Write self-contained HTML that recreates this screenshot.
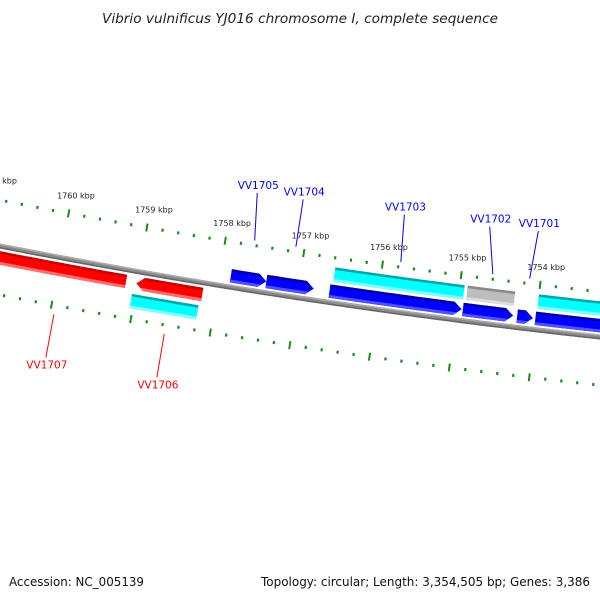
<!DOCTYPE html>
<html><head><meta charset="utf-8"><style>
html,body{margin:0;padding:0;background:#fff;}
svg{display:block;font-family:"DejaVu Sans","Liberation Sans",sans-serif;}
</style></head><body>
<svg id="map" width="600" height="600" viewBox="0 0 600 600" xmlns="http://www.w3.org/2000/svg">
<defs id="defs"></defs>
<text x="300" y="23" text-anchor="middle" font-size="13" font-style="italic" fill="#222" textLength="396" lengthAdjust="spacingAndGlyphs">Vibrio vulnificus YJ016 chromosome I, complete sequence</text>
<g id="ticks"></g>
<g id="backbone"></g>
<g id="features"></g>
<g id="labels"></g>
<text x="9" y="586" font-size="12" fill="#111" textLength="135" lengthAdjust="spacingAndGlyphs">Accession: NC_005139</text>
<text x="590" y="586" text-anchor="end" font-size="12" fill="#111" textLength="329" lengthAdjust="spacingAndGlyphs">Topology: circular; Length: 3,354,505 bp; Genes: 3,386</text>
</svg>
<script>
// ---- data ----
const geneNames = ["VV1707","VV1706","VV1705","VV1704","VV1703","VV1702","VV1701","VV1700"];
const geneStarts = [1759140,1758175,1757410,1756810,1754940,1754290,1754040,1752000];
const geneEnds   = [1762200,1759010,1757860,1757410,1756610,1754925,1754240,1754010];
const geneStrand = [-1,-1,1,1,1,1,1,1];
const geneLabeled = [true,true,true,true,true,true,true,false];
const geneLabelBp = [1759950,1758560,1757635,1757110,1755775,1754607,1754140,0];
const geneLabelDx = [0,0,-5,0,-3,-9,3,0];
const cogStarts = [1758200,1754940,1754300,1752000];
const cogEnds   = [1759040,1756580,1754900,1754000];
const cogStrand = [-1,1,1,1];
const cogKind   = ["cyan","cyan","gray","cyan"];
const tickMajorKbp = [1753,1754,1755,1756,1757,1758,1759,1760,1761,1762];
const tickLabels = ["1753 kbp","1754 kbp","1755 kbp","1756 kbp","1757 kbp","1758 kbp","1759 kbp","1760 kbp","1761 kbp","1762 kbp"];

// ---- geometry (circle centre above the backbone) ----
const R = 7100, REF = 1756975, PXPERBP = 0.08;
const ang0 = 8.62*Math.PI/180;
const nx = Math.sin(ang0), ny = -Math.cos(ang0); // upward normal
const P0 = [299, 297.9];
const C = [P0[0]+R*nx, P0[1]+R*ny];
const phi0 = Math.atan2(-ny, -nx);
function pt(bp, off){
  const phi = phi0 - (REF-bp)*PXPERBP/R;
  const r = R-off;
  return [C[0]+r*Math.cos(phi), C[1]+r*Math.sin(phi)];
}
const NS="http://www.w3.org/2000/svg";
function mk(tag, attrs, parent){
  const e=document.createElementNS(NS,tag);
  for(const k in attrs) e.setAttribute(k,attrs[k]);
  parent.appendChild(e); return e;
}
function bandPts(b0,b1,o0,o1){
  const a=[],n=Math.max(2,Math.ceil(Math.abs(b1-b0)/50));
  for(let i=0;i<=n;i++) a.push(pt(b0+(b1-b0)*i/n,o1));
  for(let i=n;i>=0;i--) a.push(pt(b0+(b1-b0)*i/n,o0));
  return a.map(p=>p[0].toFixed(2)+","+p[1].toFixed(2)).join(" ");
}
function arrowPts(s,e,o0,o1,dir){
  const head=100, mid=(o0+o1)/2, a=[];
  if(dir===1){
    const hb=Math.min(e, s+head);
    const n=Math.max(2,Math.ceil((e-hb)/50));
    for(let i=0;i<=n;i++) a.push(pt(hb+(e-hb)*i/n,o1));
    for(let i=n;i>=0;i--) a.push(pt(hb+(e-hb)*i/n,o0));
    a.push(pt(s,mid));
  } else {
    const hb=Math.max(s, e-head);
    const n=Math.max(2,Math.ceil((hb-s)/50));
    for(let i=0;i<=n;i++) a.push(pt(s+(hb-s)*i/n,o1));
    a.push(pt(e,mid));
    for(let i=n;i>=0;i--) a.push(pt(s+(hb-s)*i/n,o0));
  }
  return a.map(p=>p[0].toFixed(2)+","+p[1].toFixed(2)).join(" ");
}
const defs=document.getElementById('defs');
let clipId=0;
function feature(parent,pts,s,e,o0,o1,cols,name){
  const id="c"+(clipId++);
  const cp=mk('clipPath',{id:id},defs);
  mk('polygon',{points:pts},cp);
  const g=mk('g',{'clip-path':'url(#'+id+')'},parent);
  
  
  mk('polygon',{points:bandPts(s-200,e+200,o0,o1),fill:cols[1]},g);
  mk('polygon',{points:bandPts(s-200,e+200,o1-2.5,o1+1),fill:cols[0]},g);
  mk('polygon',{points:bandPts(s-200,e+200,o0-1,o0+3),fill:cols[2]},g);
}

// ---- ticks ----
const tg=document.getElementById('ticks');
[[45,true],[-48,false]].forEach(([ro,lab])=>{
  for(let kb=1752000; kb<=1762400; kb+=200){
    const major = kb%1000===0;
    const L = major?8:3;
    const a=pt(kb,ro-L/2), b=pt(kb,ro+L/2);
    const l=mk('line',{x1:a[0],y1:a[1],x2:b[0],y2:b[1],stroke:'#1a8a1a','stroke-width':major?2:2.2},tg);
    
    
  }
  if(lab){
    tickMajorKbp.forEach((k,i)=>{
      const p=pt(k*1000, ro+18);
      const t=mk('text',{x:p[0]+4,y:p[1]+3,'text-anchor':'middle','font-size':'8','fill':'#222'},tg);
      t.textContent=tickLabels[i];
      
      
    });
  }
});

// ---- backbone ----
const bg=document.getElementById('backbone');
mk('polygon',{points:bandPts(1751500,1762800,-2.5,2.5),fill:'#8a8a8a'},bg);
mk('polygon',{points:bandPts(1751500,1762800,1,2.5),fill:'#aaa'},bg);
mk('polygon',{points:bandPts(1751500,1762800,-2.5,-1),fill:'#666'},bg);

// ---- features ----
const fg=document.getElementById('features');
const COLS={cyan:['#00a8a8','#00ffff','#80ffff'],gray:['#888','#bdbdbd','#dcdcdc']};
cogStarts.forEach((s,i)=>{
  const e=cogEnds[i];
  const o0=cogStrand[i]===1?21:-37.5, o1=o0+14.5;
  feature(fg,bandPts(s,e,o0,o1),s,e,o0,o1,COLS[cogKind[i]],'cog-'+cogKind[i]+'-'+i);
});
geneStarts.forEach((s,i)=>{
  const e=geneEnds[i], st=geneStrand[i];
  const o0=st===1?4.5:-18.5, o1=o0+13.5;
  const cols=st===1?['#0000a8','#0000ff','#5050ff']:['#c80000','#ff0000','#ff6a6a'];
  feature(fg,arrowPts(s,e,o0,o1,st),s,e,o0,o1,cols,'gene-'+geneNames[i]);
});

// ---- labels ----
const lg=document.getElementById('labels');
geneNames.forEach((nm,i)=>{
  if(!geneLabeled[i]) return;
  const st=geneStrand[i], bp=geneLabelBp[i];
  const col=st===1?'#0000ff':'#ff0000';
  const a = st===1 ? pt(bp,50) : pt(bp,-57);
  const b = st===1 ? pt(bp,98) : pt(bp,-101);
  const bx=b[0]+geneLabelDx[i];
  const ln=mk('line',{x1:a[0],y1:a[1],x2:bx,y2:b[1],stroke:col,'stroke-width':1},lg);
  
  
  const t=mk('text',{x:bx+1,y:st===1?b[1]-4:b[1]+11,'text-anchor':'middle','font-size':'10.5',fill:col},lg);
  t.textContent=nm;
  
  
});
</script>
</body></html>
